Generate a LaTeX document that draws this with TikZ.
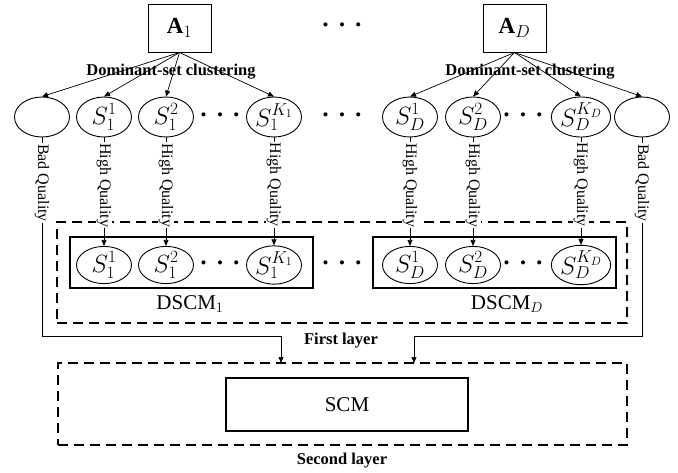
\documentclass[tikz,border=0pt]{standalone}
\usepackage{fontspec}
\setmainfont{Liberation Serif}
\usetikzlibrary{shapes.geometric,arrows.meta}
\newcommand{\threedots}{\textbullet\hspace{10.5pt}\textbullet\hspace{10.5pt}\textbullet}
\tikzset{
  abox/.style={draw, line width=1pt, minimum width=63, minimum height=48, inner sep=0pt, font=\fontsize{23}{25}\selectfont},
  topell/.style={draw, ellipse, line width=0.9pt, minimum width=55, minimum height=40, inner sep=0pt, font=\fontsize{24}{26}\selectfont},
  botell/.style={draw, ellipse, line width=0.9pt, minimum width=55, minimum height=36, inner sep=0pt, font=\fontsize{23}{25}\selectfont},
  arr/.style={-{Triangle[length=6pt,width=5pt]}, line width=0.7pt},
  qlab/.style={fill=white, rotate=-90, inner sep=1pt, font=\fontsize{16}{18}\selectfont},
  boldlab/.style={font=\fontsize{16.5}{18}\selectfont\bfseries, inner sep=0pt},
  dashbox/.style={draw, line width=1.6pt, dash pattern=on 10pt off 6pt, inner sep=0pt},
  solidbox/.style={draw, line width=1.1pt, inner sep=0pt},
  dotsn/.style={font=\fontsize{17}{18}\selectfont, inner sep=0pt},
}
\begin{document}
\begin{tikzpicture}[x=1pt,y=-1pt]
\useasboundingbox (0,0) rectangle (678,472);
% dashed layers
\node[dashbox, minimum width=570, minimum height=101] (L1) at (342,272.5) {};
\node[dashbox, minimum width=569, minimum height=82] (L2) at (342.5,404) {};
% inner boxes
\node[solidbox, minimum width=243, minimum height=51] (B1) at (191.5,262.5) {};
\node[solidbox, minimum width=243, minimum height=51] (BD) at (494.5,262.5) {};
\node[solidbox, minimum width=242, minimum height=53, font=\fontsize{21}{23}\selectfont] (scm) at (347,404.5) {SCM};
% top boxes
\node[abox] (a1) at (179.5,28) {$\mathbf{A}_{1}$};
\node[abox] (aD) at (514.5,28) {$\mathbf{A}_{D}$};
\node[dotsn] (dtop) at (342,27) {\threedots};
% top ellipses
\node[topell] (t0) at (42,117) {};
\node[topell] (t11) at (104,117) {$S_1^1$};
\node[topell] (t12) at (166,117) {$S_1^2$};
\node[dotsn] (dl) at (220,117) {\threedots};
\node[topell] (t1K) at (274,117) {$S_1^{K_1}$};
\node[dotsn] (dm) at (342,117) {\threedots};
\node[topell] (tD1) at (410,117) {$S_D^1$};
\node[topell] (tD2) at (473,117) {$S_D^2$};
\node[dotsn] (dr) at (523,117) {\threedots};
\node[topell] (tDK) at (581,117) {$S_D^{K_D}$};
\node[topell] (t9) at (642,117) {};
% bottom ellipses
\node[botell] (b11) at (104,265) {$S_1^1$};
\node[botell] (b12) at (166,265) {$S_1^2$};
\node[dotsn] (bdl) at (220,265) {\threedots};
\node[botell] (b1K) at (274,265) {$S_1^{K_1}$};
\node[dotsn] (bdm) at (342,265) {\threedots};
\node[botell] (bD1) at (410,265) {$S_D^1$};
\node[botell] (bD2) at (473,265) {$S_D^2$};
\node[dotsn] (bdr) at (523,265) {\threedots};
\node[botell] (bDK) at (581,265) {$S_D^{K_D}$};
% clustering arrows
\foreach \t in {t0,t11,t12,t1K} \draw[arr] (a1.south) -- (\t.north);
\foreach \t in {tD1,tD2,tDK,t9} \draw[arr] (aD.south) -- (\t.north);
\node[boldlab] (dsc1) at (171,72) {Dominant-set clustering};
\node[boldlab] (dscD) at (530,72) {Dominant-set clustering};
% high quality
\draw[arr] (t11.south) -- (b11.north) node[qlab, pos=0.44] {High Quality};
\draw[arr] (t12.south) -- (b12.north) node[qlab, pos=0.44] {High Quality};
\draw[arr] (t1K.south) -- (b1K.north) node[qlab, pos=0.44] {High Quality};
\draw[arr] (tD1.south) -- (bD1.north) node[qlab, pos=0.44] {High Quality};
\draw[arr] (tD2.south) -- (bD2.north) node[qlab, pos=0.44] {High Quality};
\draw[arr] (tDK.south) -- (bDK.north) node[qlab, pos=0.44] {High Quality};
% bad quality
\coordinate (c1) at (281,336);
\coordinate (c2) at (414,336);
\coordinate (in1) at (281,363);
\coordinate (in2) at (414,363);
\draw[arr] (t0.south) |- (c1) -- (in1);
\draw[arr] (t9.south) |- (c2) -- (in2);
\node[qlab] (bq1) at (42,183) {Bad Quality};
\node[qlab] (bq2) at (642,183) {Bad Quality};
% labels
\node[font=\fontsize{21}{23}\selectfont, inner sep=0pt] (ds1) at (190,304) {DSCM$_1$};
\node[font=\fontsize{21}{23}\selectfont, inner sep=0pt] (dsD) at (507,304) {DSCM$_D$};
\node[boldlab] (fl) at (341,341) {First layer};
\node[boldlab] (sl) at (342,461) {Second layer};
\end{tikzpicture}
\end{document}
